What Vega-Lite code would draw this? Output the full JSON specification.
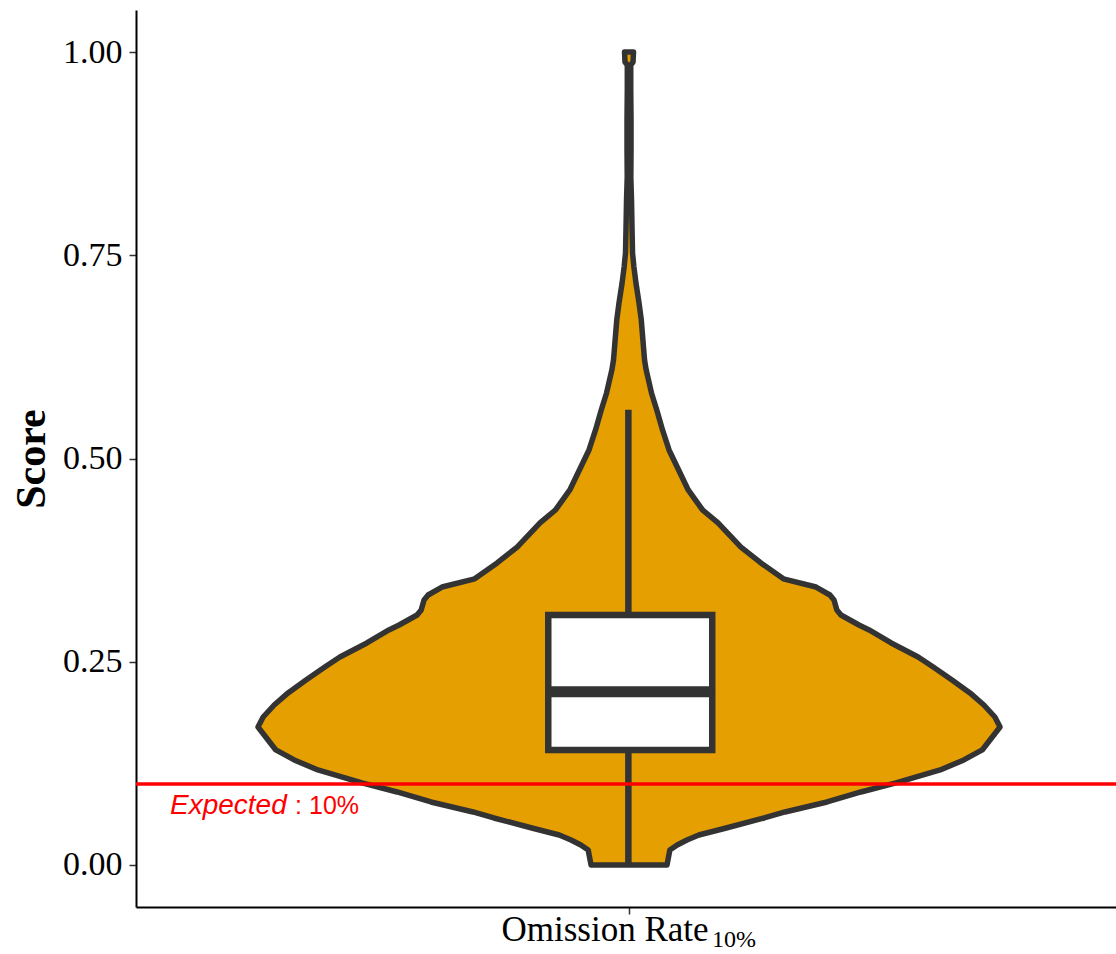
{
  "$schema": "https://vega.github.io/schema/vega-lite/v6.json",
  "width": 980,
  "height": 897,
  "autosize": {"type": "none"},
  "padding": {"left": 136, "top": 10, "right": 0, "bottom": 47},
  "background": "white",
  "config": {
    "view": {"stroke": null},
    "axis": {
      "grid": false,
      "domainColor": "black",
      "domainWidth": 2,
      "tickColor": "#333333",
      "tickWidth": 1.5,
      "tickSize": 7,
      "labelFont": "Liberation Serif",
      "labelFontSize": 34,
      "labelColor": "black",
      "labelLimit": 0,
      "titleFont": "Liberation Serif",
      "titleFontSize": 42,
      "titleFontWeight": "bold",
      "titleColor": "black"
    }
  },
  "datasets": {
    "violin": [
      {"score": 0.0, "w": 0.093},
      {"score": 0.0185, "w": 0.1},
      {"score": 0.0246, "w": 0.118},
      {"score": 0.0308, "w": 0.142},
      {"score": 0.0369, "w": 0.171},
      {"score": 0.0455, "w": 0.238},
      {"score": 0.0578, "w": 0.331},
      {"score": 0.0652, "w": 0.382},
      {"score": 0.0775, "w": 0.485},
      {"score": 0.0898, "w": 0.568},
      {"score": 0.1009, "w": 0.654},
      {"score": 0.1169, "w": 0.762},
      {"score": 0.1292, "w": 0.82},
      {"score": 0.1415, "w": 0.865},
      {"score": 0.1538, "w": 0.884},
      {"score": 0.1697, "w": 0.9086},
      {"score": 0.182, "w": 0.896},
      {"score": 0.1968, "w": 0.869},
      {"score": 0.2116, "w": 0.835},
      {"score": 0.2276, "w": 0.791},
      {"score": 0.2435, "w": 0.745},
      {"score": 0.2558, "w": 0.708},
      {"score": 0.2731, "w": 0.642},
      {"score": 0.2891, "w": 0.588},
      {"score": 0.2952, "w": 0.563},
      {"score": 0.3075, "w": 0.519},
      {"score": 0.3137, "w": 0.509},
      {"score": 0.326, "w": 0.502},
      {"score": 0.3321, "w": 0.492},
      {"score": 0.3419, "w": 0.458},
      {"score": 0.352, "w": 0.378},
      {"score": 0.3715, "w": 0.323},
      {"score": 0.3911, "w": 0.274},
      {"score": 0.4207, "w": 0.218},
      {"score": 0.4367, "w": 0.18},
      {"score": 0.4613, "w": 0.145},
      {"score": 0.4895, "w": 0.118},
      {"score": 0.5105, "w": 0.098},
      {"score": 0.5351, "w": 0.082},
      {"score": 0.5597, "w": 0.068},
      {"score": 0.5806, "w": 0.055},
      {"score": 0.6089, "w": 0.042},
      {"score": 0.6212, "w": 0.038},
      {"score": 0.6458, "w": 0.034},
      {"score": 0.6704, "w": 0.03},
      {"score": 0.6913, "w": 0.0245},
      {"score": 0.7159, "w": 0.017},
      {"score": 0.7355, "w": 0.012},
      {"score": 0.7528, "w": 0.0086},
      {"score": 0.7847, "w": 0.0073},
      {"score": 0.818, "w": 0.0061},
      {"score": 0.8462, "w": 0.0044},
      {"score": 0.8795, "w": 0.0049},
      {"score": 0.9164, "w": 0.0049},
      {"score": 0.9533, "w": 0.0042},
      {"score": 0.984, "w": 0.0042},
      {"score": 0.9877, "w": 0.0098},
      {"score": 1.0, "w": 0.011}
    ],
    "box": [
      {"lo": 0.0, "q1": 0.1415, "median": 0.2132, "q3": 0.3075, "hi": 0.56}
    ],
    "one": [{}]
  },
  "layer": [
    {
      "data": {"name": "violin"},
      "mark": {"type": "area", "orient": "horizontal", "fill": "#E69F00", "stroke": "#333333", "strokeWidth": 5.5, "strokeJoin": "round"},
      "encoding": {
        "y": {
          "field": "score", "type": "quantitative",
          "scale": {"domain": [-0.0517, 1.0517], "nice": false, "zero": false},
          "axis": {"title": "Score", "values": [0, 0.25, 0.5, 0.75, 1], "format": ".2f", "labelPadding": 7, "titlePadding": 9}
        },
        "x": {
          "field": "w", "type": "quantitative", "stack": "center",
          "scale": {"domain": [-0.1494, 1.0506], "nice": false, "zero": false},
          "axis": {"title": null, "values": [0.4543], "labelExpr": "'Omission Rate'", "labelAlign": "right", "labelOffset": 79, "labelBaseline": "alphabetic", "labelPadding": 26, "labelFontSize": 35}
        }
      }
    },
    {
      "data": {"name": "box"},
      "mark": {"type": "rule", "stroke": "#333333", "strokeWidth": 6.5},
      "encoding": {
        "x": {"datum": 0.4535, "type": "quantitative"},
        "y": {"field": "lo", "type": "quantitative"},
        "y2": {"field": "hi"}
      }
    },
    {
      "data": {"name": "box"},
      "mark": {"type": "rect", "fill": "white", "stroke": "#333333", "strokeWidth": 6.5},
      "encoding": {
        "x": {"datum": 0.3554, "type": "quantitative"},
        "x2": {"datum": 0.5562},
        "y": {"field": "q1", "type": "quantitative"},
        "y2": {"field": "q3"}
      }
    },
    {
      "data": {"name": "box"},
      "mark": {"type": "rule", "stroke": "#333333", "strokeWidth": 11},
      "encoding": {
        "x": {"datum": 0.3554, "type": "quantitative"},
        "x2": {"datum": 0.5562},
        "y": {"field": "median", "type": "quantitative"}
      }
    },
    {
      "data": {"name": "one"},
      "mark": {"type": "rule", "stroke": "#FF0000", "strokeWidth": 3.5},
      "encoding": {
        "y": {"datum": 0.0995, "type": "quantitative"}
      }
    },
    {
      "data": {"name": "one"},
      "mark": {"type": "text", "text": "Expected", "font": "Liberation Sans", "fontSize": 28, "fontStyle": "italic", "fill": "#FF0000", "align": "left", "baseline": "alphabetic"},
      "encoding": {
        "x": {"datum": -0.1078, "type": "quantitative"},
        "y": {"datum": 0.0627, "type": "quantitative"}
      }
    },
    {
      "data": {"name": "one"},
      "mark": {"type": "text", "text": ": 10%", "font": "Liberation Sans", "fontSize": 25, "fill": "#FF0000", "align": "left", "baseline": "alphabetic"},
      "encoding": {
        "x": {"datum": 0.0454, "type": "quantitative"},
        "y": {"datum": 0.0627, "type": "quantitative"}
      }
    },
    {
      "data": {"name": "one"},
      "mark": {"type": "text", "text": "10%", "font": "Liberation Serif", "fontSize": 24, "fill": "black", "align": "left", "baseline": "alphabetic"},
      "encoding": {
        "x": {"datum": 0.5559, "type": "quantitative"},
        "y": {"datum": -0.1009, "type": "quantitative"}
      }
    }
  ]
}
